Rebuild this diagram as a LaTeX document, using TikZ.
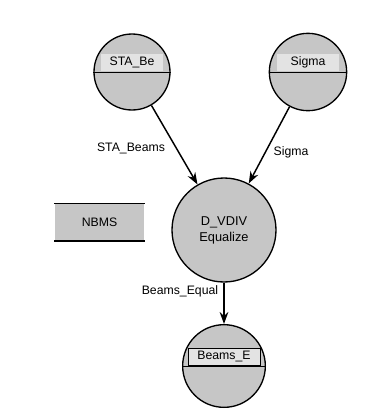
\documentclass[tikz,border=0pt]{standalone}
\usepackage{fontspec}
\setmainfont{Liberation Sans}
\usetikzlibrary{arrows.meta}
\begin{document}
\begin{tikzpicture}[x=.75pt,y=-.75pt,line width=1pt,
  every node/.style={font=\fontsize{9.2}{10}\selectfont,inner sep=1pt},
  bubble/.style={circle,draw,fill=gray!45,minimum size=#1,inner sep=0pt},
  tag/.style={fill=gray!22,minimum width=#1,minimum height=13,inner sep=0pt,anchor=south},
  flow/.style={-{Stealth[length=9pt,width=6.5pt]},line width=1.1pt}]
  \path[use as bounding box] (0,0) rectangle (386,419);
  % stores
  \node[bubble=57] (sta) at (132,72) {};
  \node[bubble=58] (sig) at (308,72) {};
  \node[bubble=62] (beq) at (224,366) {};
  \node[tag=46] (stalbl) at (sta.center) {STA\_Be};
  \node[tag=46] (siglbl) at (sig.center) {Sigma};
  \node[tag=54,draw,line width=.6pt] (beqlbl) at (beq.center) {Beams\_E};
  \draw[line width=.6pt] (sta.west) -- (sta.east) (sig.west) -- (sig.east)
    (beq.west) -- (beq.east);
  % process
  \node[bubble=78,align=center,font=\fontsize{9.6}{12}\selectfont] (vdiv) at (224,230)
    {D\_VDIV\\Equalize};
  % box
  \node[fill=gray!45,minimum width=67,minimum height=27,inner sep=0pt] (nbms) at (99.5,222) {NBMS};
  \draw[line width=1.2pt] (nbms.north west) -- (nbms.north east);
  \draw[line width=1.6pt] (nbms.south west) -- (nbms.south east);
  % flows
  \draw[flow] (sta) -- (vdiv);
  \draw[flow] (sig) -- (vdiv);
  \draw[flow] (vdiv) -- (beq);
  \node (stafl) at (131,148) {STA\_Beams};
  \node (sigfl) at (291,152) {Sigma};
  \node (beqfl) at (180,291) {Beams\_Equal};
\end{tikzpicture}
\end{document}
